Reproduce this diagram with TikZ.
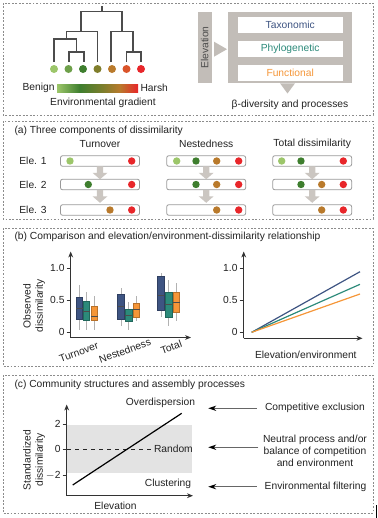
\documentclass[tikz,border=0pt]{standalone}
\usepackage{fontspec}
\setmainfont{Liberation Sans}
\usetikzlibrary{arrows.meta}

\definecolor{leafA}{RGB}{156,198,106}
\definecolor{leafB}{RGB}{110,160,74}
\definecolor{leafC}{RGB}{62,126,46}
\definecolor{leafD}{RGB}{128,126,44}
\definecolor{leafE}{RGB}{185,122,44}
\definecolor{leafF}{RGB}{218,84,42}
\definecolor{leafG}{RGB}{232,38,42}
\definecolor{boxgray}{RGB}{194,189,184}
\definecolor{arrgray}{RGB}{203,198,193}
\definecolor{taxblue}{RGB}{62,84,130}
\definecolor{phyteal}{RGB}{44,138,122}
\definecolor{funorange}{RGB}{245,150,56}
\definecolor{txt}{RGB}{34,34,34}

\tikzset{every picture/.style={line width=0.75pt}}
\tikzset{
  every node/.style={font=\fontsize{7.7}{9.2}\selectfont, text=txt, inner sep=0.75pt},
  panel/.style={draw=black!45, line width=0.4pt, dash pattern=on 1.4pt off 1.2pt},
  branch/.style={draw=black!70, line width=0.95pt},
  rowbox/.style={draw=black!40, fill=white, line width=0.6pt, rounded corners=1.6pt},
  blockarrow/.style={fill=arrgray, draw=none},
  axis/.style={draw=black!80, line width=0.6pt, -{Stealth[length=4.5pt,width=3.6pt]}},
  tick/.style={draw=black!80, line width=0.6pt},
  whisker/.style={draw=black!30, line width=0.7pt},
  procarrow/.style={draw=black!60, line width=0.8pt, -{Stealth[length=6pt,width=4pt,color=black]}}
}

\begin{document}
\begin{tikzpicture}[x=0.75pt,y=0.75pt,yscale=-1,xscale=1]
\useasboundingbox (0,0) rectangle (378,518);

% Panels
\draw[panel] (3,3) rectangle (373,115);
\draw[panel] (3,121) rectangle (373,219);
\draw[panel] (3,228) rectangle (373,366);
\draw[panel] (3,375) rectangle (373,513);

% Dendrogram
\draw[branch] (54,62) |- (76.5,39) -| (76.5,52);
\draw[branch] (69,62) |- (84,52) -- (84,62);
\draw[branch] (66.7,39) |- (97.5,31.7) -- (97.5,62);
\draw[branch] (111,62) |- (133,31.7) -- (133,52);
\draw[branch] (126.5,62) |- (141,52) -- (141,62);
\draw[branch] (81,31.7) |- (122,11.3) -- (122,31.7);
\draw[branch] (102,11.3) -- (102,6);
\foreach \px/\pc in {54/leafA,68.5/leafB,83/leafC,97.5/leafD,112/leafE,126.5/leafF,141/leafG}
  \fill[\pc] (\px,69) circle (4);

% Gradient bar
\shade[left color=leafA, right color=leafC] (57,84) rectangle (80,92);
\shade[left color=leafC, right color=leafD] (79.8,84) rectangle (104,92);
\shade[left color=leafD, right color=leafE] (103.8,84) rectangle (120,92);
\shade[left color=leafE, right color=leafG] (119.8,84) rectangle (138,92);
\node[anchor=east] (benign) at (56,88) {Benign};
\node[anchor=west] (harsh) at (139,88) {Harsh};
\node (envgrad) at (103,103) {Environmental gradient};

% Elevation and dissimilarity boxes
\fill[boxgray] (197.7,11.7) rectangle (211.7,83.3);
\node[rotate=90, text=black!70] (elev) at (204.7,47.5) {Elevation};
\fill[boxgray] (214,41.7) -- (227,49.2) -- (214,56.7) -- cycle;
\fill[boxgray] (228,11.7) rectangle (351.7,83.3);
\fill[white] (237.7,16.7) rectangle (342.7,32.7);
\fill[white] (237.7,41) rectangle (342.7,57.3);
\fill[white] (237.7,65.3) rectangle (342.7,81);
\node[text=taxblue] (taxo) at (290.2,24.7) {Taxonomic};
\node[text=phyteal] (phylo) at (290.2,49.2) {Phylogenetic};
\node[text=funorange] (func) at (290.2,73.2) {Functional};
\fill[boxgray] (280,83.3) -- (295,83.3) -- (287.5,93.5) -- cycle;
\node (betadiv) at (290,105) {β-diversity and processes};

% (a) Three components of dissimilarity
\node[anchor=west] (titleA) at (13,130.7) {(a) Three components of dissimilarity};
\node (turn) at (100,144.3) {Turnover};
\node (nest) at (206.2,144.3) {Nestedness};
\node (totd) at (312.2,144.3) {Total dissimilarity};
\node (eleA) at (33,161) {Ele. 1};
\node (eleB) at (33,184.5) {Ele. 2};
\node (eleC) at (33,210) {Ele. 3};
\foreach \cx in {100,206.2,312.2}{
  \foreach \ry in {161,184.5,210}
    \draw[rowbox] (\cx-39.5,\ry-5.3) rectangle (\cx+39.5,\ry+5.3);
  \foreach \ry in {166.3,189.8}
    \fill[blockarrow] (\cx-3.2,\ry) -- (\cx+3.2,\ry) -- (\cx+3.2,\ry+6.5) -- (\cx+7.5,\ry+6.5)
      -- (\cx,\ry+13) -- (\cx-7.5,\ry+6.5) -- (\cx-3.2,\ry+6.5) -- cycle;
}
% dots: x / y / colour
\foreach \dx/\dy/\dc in {70/161/leafA,131.7/161/leafG,88.3/184.5/leafC,131.7/184.5/leafG,110/210/leafE,131.7/210/leafG,
  176.7/161/leafA,196/161/leafC,216.7/161/leafE,238.7/161/leafG,196/184.5/leafC,216.7/184.5/leafE,238.7/184.5/leafG,
  216.7/210/leafE,238.7/210/leafG,
  281.7/161/leafA,301/161/leafC,343.3/161/leafG,301/184.5/leafC,321.7/184.5/leafE,343.3/184.5/leafG,
  321.7/210/leafE,343.3/210/leafG}
  \fill[\dc] (\dx,\dy) circle (3.7);

% (b) Comparison and relationship
\node[anchor=west] (titleB) at (13,237.3) {(b) Comparison and elevation/environment-dissimilarity relationship};

% box plots: x / colour / whisker low / q1 / median / q3 / whisker high
\foreach \bx/\bc/\wl/\qa/\md/\qb/\wh in {
  76/taxblue/.04/.20/.375/.547/.74, 83.2/phyteal/.04/.18/.33/.48/.63, 90.9/funorange/.04/.18/.255/.40/.56,
  117.7/taxblue/.10/.21/.40/.59/.70, 125.4/phyteal/.04/.17/.26/.36/.48, 133.1/funorange/.18/.24/.36/.45/.56,
  157.8/taxblue/.24/.35/.58/.87/.93, 165.3/phyteal/.10/.24/.43/.625/.82, 173.1/funorange/.18/.31/.47/.62/.77}{
  \draw[whisker] ({\bx+3.3},{332.3-64*\wl}) -- ({\bx+3.3},{332.3-64*\wh});
  \draw[fill=\bc, draw=\bc!75!black, line width=0.5pt] (\bx,{332.3-64*\qa}) rectangle ({\bx+6.6},{332.3-64*\qb});
  \draw[draw=black!70, line width=0.6pt] (\bx,{332.3-64*\md}) -- ({\bx+6.6},{332.3-64*\md});
}
\coordinate (oL) at (70.7,337.5);
\coordinate (yL) at (70.7,251.5);
\coordinate (xL) at (191,337.5);
\draw[axis] (oL) -- (yL);
\draw[axis] (oL) -- (xL);
\foreach \tv/\tl in {0/0,0.5/0.5,1/1.0}{
  \draw[tick] (66.7,{332.3-64*\tv}) -- (70.7,{332.3-64*\tv});
  \draw[tick] (239.7,{332.3-64*\tv}) -- (243.7,{332.3-64*\tv});
  \node[anchor=east] at (66,{332.3-64*\tv}) {\tl};
  \node[anchor=east] at (239,{332.3-64*\tv}) {\tl};
}
\node[rotate=90, align=center] (obsd) at (34,306) {Observed\\dissimilarity};
\node[rotate=20, anchor=north east] (lturn) at (97.5,340) {Turnover};
\node[rotate=20, anchor=north east] (lnest) at (150,336) {Nestedness};
\node[rotate=20, anchor=north east] (ltot) at (181,338) {Total};

\coordinate (oR) at (243.7,338.3);
\coordinate (yR) at (243.7,251.5);
\coordinate (xR) at (362.5,338.3);
\draw[axis] (oR) -- (yR);
\draw[axis] (oR) -- (xR);
\coordinate (st) at (251.7,332.3);
\draw[taxblue, line width=0.9pt] (st) -- (360,271.7);
\draw[phyteal, line width=0.9pt] (st) -- (360,284.3);
\draw[funorange, line width=0.9pt] (st) -- (360,294);
\node (elenv) at (305.8,355) {Elevation/environment};

% (c) Community structures and assembly processes
\node[anchor=west] (titleC) at (13,385) {(c) Community structures and assembly processes};
\fill[black!11] (67,425) rectangle (191.7,473.3);
\draw[black!85, dashed, line width=0.5pt] (67,449) -- (152,449);
\coordinate (oC) at (66.7,495.7);
\coordinate (yC) at (66.7,404.5);
\coordinate (xC) at (193,495.7);
\draw[axis] (oC) -- (yC);
\draw[axis] (oC) -- (xC);
\foreach \ty/\tl in {424/2,449/0,475/$-$2}{
  \draw[tick] (62.7,\ty) -- (66.7,\ty);
  \node[anchor=east] at (62,\ty) {\tl};
}
\draw[black, line width=0.9pt] (72.7,485) -- (181.7,413.3);
\node[anchor=west] (rand) at (152.5,449) {Random};
\node (overd) at (160.5,403.3) {Overdispersion};
\node (clust) at (168,484) {Clustering};
\node (elevC) at (115.5,505.7) {Elevation};
\node[rotate=90, align=center] (stdd) at (34,460) {Standardized\\dissimilarity};

\node (compx) at (315,408.3) {Competitive exclusion};
\node[align=center] (neut) at (315,450.7) {Neutral process and/or\\balance of competition\\and environment};
\node (envf) at (315.5,486.7) {Environmental filtering};
\coordinate (pA) at (208.3,408.3);
\coordinate (pB) at (208.3,447.3);
\coordinate (pC) at (208.3,486.7);
\draw[procarrow] ([xshift=-5pt]compx.west) -- (pA);
\draw[procarrow] (258.3,447.3) -- (pB);
\draw[procarrow] ([xshift=-5pt]envf.west) -- (pC);

% edge mark
\draw[black, line width=0.7pt] (376.6,505) -- (376.6,518);
\end{tikzpicture}
\end{document}
